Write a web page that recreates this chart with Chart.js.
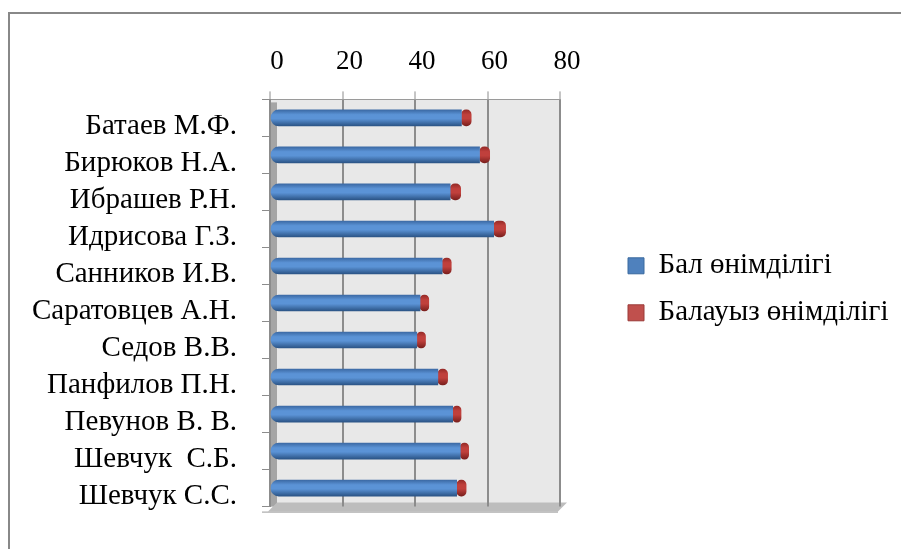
<!DOCTYPE html>
<html>
<head>
<meta charset="utf-8">
<script src="https://cdn.jsdelivr.net/npm/chart.js@4/dist/chart.umd.min.js"></script>
<style>
  html, body { margin: 0; padding: 0; background: #fff; }
  #wrap { width: 901px; height: 549px; position: relative; }
</style>
</head>
<body>
<div id="wrap"><canvas id="barChartBal"></canvas></div>
<script>
'use strict';

// categories (top to bottom)
var names = [
    'Батаев М.Ф.', 'Бирюков Н.А.', 'Ибрашев Р.Н.', 'Идрисова Г.З.', 'Санников И.В.',
    'Саратовцев А.Н.', 'Седов В.В.', 'Панфилов П.Н.', 'Певунов В. В.', 'Шевчук  С.Б.', 'Шевчук С.С.'
];
var seriesNames = ['Бал өнімділігі', 'Балауыз өнімділігі'];
var balValues = [52.8, 57.8, 49.7, 61.7, 47.5, 41.4, 40.5, 46.3, 50.4, 52.5, 51.5];
var balauyzValues = [2.7, 2.8, 2.9, 3.3, 2.5, 2.4, 2.4, 2.7, 2.3, 2.3, 2.6];
var xTicks = [0, 20, 40, 60, 80];

var blueSolid = '#4f81bd';
var redSolid = '#c0504d';
var serif = "'Liberation Serif', 'Times New Roman', serif";

// cylinder look: vertical gradient across the bar thickness
function cylinder(dark, light, edge) {
    return function (context) {
        var chart = context.chart;
        var yScale = chart.scales.y;
        if (!chart.chartArea || !yScale) {
            return light;
        }
        var cy = yScale.getPixelForValue(context.dataIndex);
        var g = chart.ctx.createLinearGradient(0, cy - 8, 0, cy + 8);
        g.addColorStop(0, edge);
        g.addColorStop(0.3, light);
        g.addColorStop(0.55, light);
        g.addColorStop(1, dark);
        return g;
    };
}

// the box around the picture, the walls and the floor of the 3D look
var frame3d = {
    id: 'frame3d',
    beforeDraw: function (chart) {
        var ctx = chart.ctx, a = chart.chartArea;
        ctx.save();
        ctx.strokeStyle = '#888888';
        ctx.lineWidth = 2;
        ctx.strokeRect(9, 13, 1000, 1000);
        // back wall
        ctx.fillStyle = '#e8e8e8';
        ctx.fillRect(a.left, a.top, a.right - a.left, a.bottom - a.top);
        // left wall
        ctx.fillStyle = '#a5a5a5';
        ctx.fillRect(a.left, a.top + 3, 7, a.bottom - a.top - 3);
        // floor
        ctx.fillStyle = '#bdbdbd';
        ctx.beginPath();
        ctx.moveTo(a.left + 7, a.bottom - 4);
        ctx.lineTo(a.right + 7, a.bottom - 4);
        ctx.lineTo(a.right - 2, a.bottom + 5);
        ctx.lineTo(a.left - 2, a.bottom + 5);
        ctx.closePath();
        ctx.fill();
        ctx.strokeStyle = '#9a9a9a';
        ctx.lineWidth = 1;
        ctx.beginPath();
        ctx.moveTo(a.left - 8, a.bottom + 5.5);
        ctx.lineTo(a.right - 2, a.bottom + 5.5);
        ctx.stroke();
        ctx.restore();
    }
};

var ctxBal = document.getElementById('barChartBal');

var barChartBal = new Chart(ctxBal, {
    type: 'bar',
    plugins: [frame3d],
    data: {
        labels: names,
        datasets: [
            {
                label: seriesNames[0],
                data: balValues,
                backgroundColor: cylinder('#2b5486', '#5b93d6', '#3c6aa5'),
                borderWidth: 0,
                borderSkipped: false,
                borderRadius: { topLeft: 8, bottomLeft: 8, topRight: 0, bottomRight: 0 },
                barThickness: 16
            },
            {
                label: seriesNames[1],
                data: balauyzValues,
                backgroundColor: cylinder('#7a1f1d', '#c0403c', '#962b28'),
                borderWidth: 0,
                borderSkipped: false,
                borderRadius: 5,
                barThickness: 16
            }
        ]
    },
    options: {
        responsive: true,
        maintainAspectRatio: false,
        animation: false,
        indexAxis: 'y',
        layout: {
            padding: { top: 33, bottom: 37, left: 10, right: 11 }
        },
        scales: {
            x: {
                position: 'top',
                stacked: true,
                min: 0,
                max: 80,
                afterBuildTicks: function (scale) {
                    scale.ticks = xTicks.map(function (v) { return { value: v }; });
                },
                grid: {
                    color: '#8c8c8c',
                    lineWidth: 2,
                    tickLength: 8,
                    tickColor: '#8c8c8c',
                    tickWidth: 1
                },
                border: { display: true, color: '#9a9a9a', width: 1 },
                ticks: {
                    color: '#000',
                    padding: 13,
                    labelOffset: 7,
                    font: { family: serif, size: 27 }
                }
            },
            y: {
                stacked: true,
                afterFit: function (scale) {
                    scale.width = 260;
                },
                grid: {
                    drawOnChartArea: false,
                    tickLength: 8,
                    color: '#8c8c8c'
                },
                border: { display: true, color: '#8c8c8c', width: 1 },
                ticks: {
                    color: '#000',
                    padding: 25,
                    labelOffset: 8,
                    autoSkip: false,
                    font: { family: serif, size: 29 }
                }
            },
            gap: {
                type: 'linear',
                position: 'right',
                display: true,
                grid: { display: false },
                border: { display: false },
                ticks: { display: false },
                afterFit: function (scale) {
                    scale.width = 50;
                }
            }
        },
        plugins: {
            legend: {
                position: 'right',
                maxWidth: 280,
                labels: {
                    color: '#000',
                    font: { family: serif, size: 29 },
                    boxWidth: 16,
                    boxHeight: 16,
                    padding: 18,
                    generateLabels: function (chart) {
                        return [
                            { text: seriesNames[0], fillStyle: blueSolid, strokeStyle: '#3a6a9f', lineWidth: 1, fontColor: '#000', datasetIndex: 0 },
                            { text: seriesNames[1], fillStyle: redSolid, strokeStyle: '#9b3b38', lineWidth: 1, fontColor: '#000', datasetIndex: 1 }
                        ];
                    }
                },
                title: {
                    display: true,
                    text: ' ',
                    padding: 0,
                    font: { size: 28 }
                }
            },
            tooltip: { enabled: false }
        }
    }
});
</script>
</body>
</html>
